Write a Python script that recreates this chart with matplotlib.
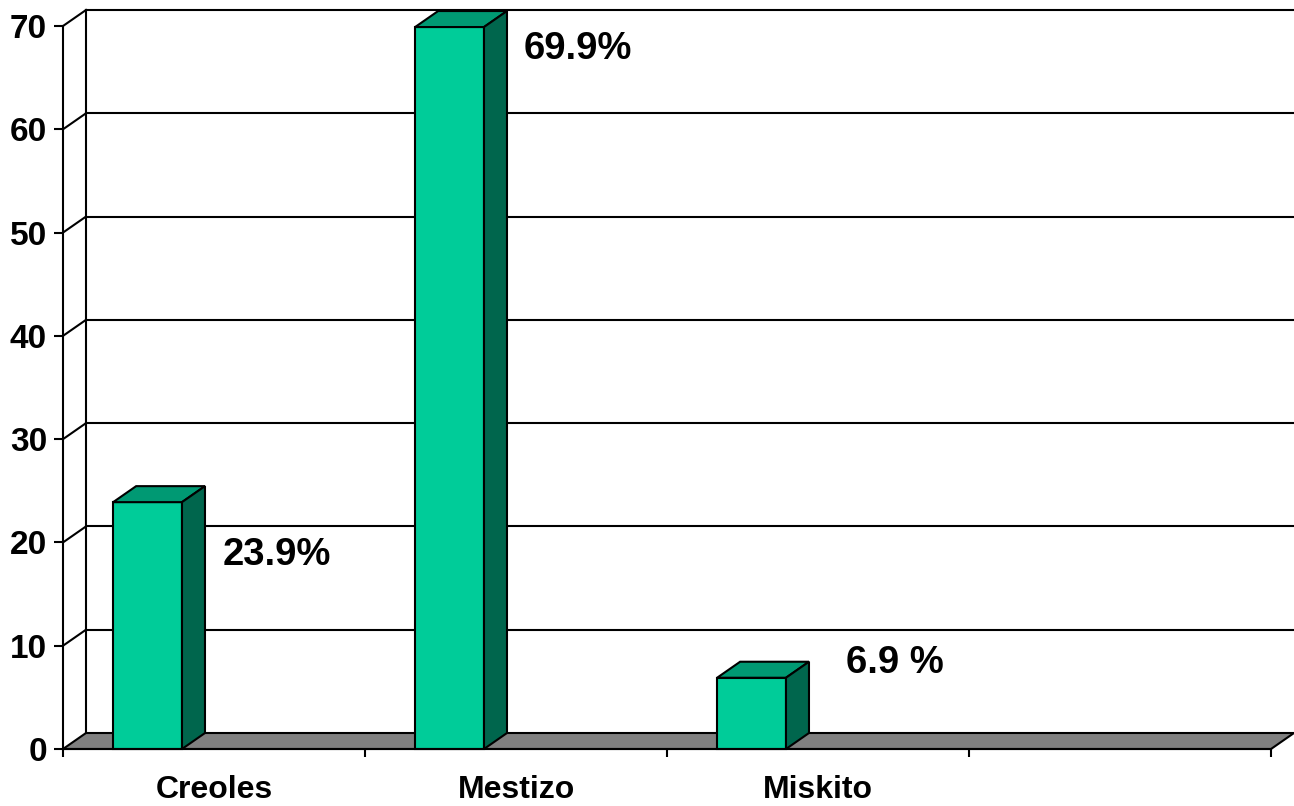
import matplotlib
matplotlib.use("Agg")
import matplotlib.pyplot as plt
from matplotlib.patches import Polygon
import numpy as np

categories = ["Creoles", "Mestizo", "Miskito", ""]
values = [23.9, 69.9, 6.9]
value_labels = ["23.9%", "69.9%", "6.9 %"]
yticks = [0, 10, 20, 30, 40, 50, 60, 70]

# manual label placement (data coords), as in the original slide
LABEL_X = [0.527, 1.524, 2.592]
LABEL_Y = [18.8, 67.8, 8.3]

FRONT = "#00cc99"; TOP = "#009973"; SIDE = "#00664d"; FLOOR = "#808080"
INK = "#000000"
DEPTH_PX = (23, 16)        # 3-D depth offset in pixels
BAR_LEFT = 0.166; BAR_W = 0.228
LW = 1.5

plt.rcParams["font.family"] = ["Liberation Sans", "DejaVu Sans"]
plt.rcParams["font.weight"] = "bold"

W, H = 1294, 806
fig = plt.figure(figsize=(W / 100, H / 100), dpi=100)
ax = fig.add_axes([63 / W, (H - 749) / H, (1271 - 63) / W, (749 - 26) / H])
ax.set_xlim(0, len(categories))
ax.set_ylim(0, 70)

# depth offset in data units
p0 = ax.transData.transform((0, 0))
dx, dy = ax.transData.inverted().transform(p0 + np.array(DEPTH_PX))
def back(x, y):
    return (x + dx, y + dy)

nx = len(categories)
# floor
ax.add_patch(Polygon([(0, 0), (nx, 0), back(nx, 0), back(0, 0)], closed=True,
                     facecolor=FLOOR, edgecolor=INK, lw=LW, clip_on=False, zorder=1))
# walls: side diagonals + back gridlines
for t in yticks[1:]:
    ax.plot([0, dx], [t, t + dy], color=INK, lw=LW, clip_on=False, zorder=0.5)
    ax.plot([dx, nx + dx], [t + dy, t + dy], color=INK, lw=LW, clip_on=False, zorder=0.5)
ax.plot([dx, dx], [dy, 70 + dy], color=INK, lw=LW, clip_on=False, zorder=0.5)

# bars
for i, v in enumerate(values):
    x0 = i + BAR_LEFT; x1 = x0 + BAR_W
    ax.add_patch(Polygon([(x0, 0), (x1, 0), (x1, v), (x0, v)], closed=True,
                         facecolor=FRONT, edgecolor=INK, lw=LW, clip_on=False, zorder=3))
    ax.add_patch(Polygon([(x0, v), (x1, v), back(x1, v), back(x0, v)], closed=True,
                         facecolor=TOP, edgecolor=INK, lw=LW, clip_on=False, zorder=3))
    ax.add_patch(Polygon([(x1, 0), back(x1, 0), back(x1, v), (x1, v)], closed=True,
                         facecolor=SIDE, edgecolor=INK, lw=LW, clip_on=False, zorder=3))

for lx, ly, s in zip(LABEL_X, LABEL_Y, value_labels):
    ax.text(lx, ly, s, fontsize=27.5, fontweight="bold", ha="left", va="center", zorder=5)

# axes
for side in ["top", "right"]:
    ax.spines[side].set_visible(False)
for side in ["left", "bottom"]:
    ax.spines[side].set_linewidth(LW)
    ax.spines[side].set_color(INK)
    ax.spines[side].set_zorder(4)
ax.patch.set_visible(False)
ax.set_yticks(yticks)
ax.set_yticklabels([str(t) for t in yticks])
ax.tick_params(axis="y", length=6.5, width=LW, pad=5, labelsize=24, colors=INK)
ax.set_xticks(np.arange(nx + 1))
ax.set_xticklabels([])
ax.tick_params(axis="x", which="major", length=6, width=LW, colors=INK)
ax.set_xticks(np.arange(nx) + 0.5, minor=True)
ax.set_xticklabels(categories, minor=True, fontsize=23, fontweight="bold")
ax.tick_params(axis="x", which="minor", length=0, pad=19)

fig.savefig("out.png", dpi=100, facecolor="white")
